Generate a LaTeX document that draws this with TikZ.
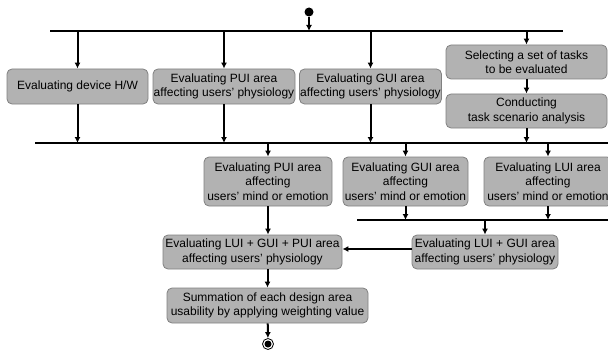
\documentclass[tikz,border=0pt]{standalone}
\usepackage{fontspec}
\setmainfont{Liberation Sans}
\usetikzlibrary{arrows.meta}
\begin{document}
\begin{tikzpicture}[x=1pt,y=-1pt,style={font=\fontsize{12}{14.3}\selectfont},
  act/.style={draw=black!50,fill=black!30,rounded corners=5pt,align=center,inner sep=0pt,line width=0.8pt},
  arr/.style={-{Latex[length=6pt,width=6pt]},line width=2pt},
  bar/.style={line width=1.2pt}]
\clip (0,0) rectangle (608,353);
\node[circle,fill,inner sep=0pt,minimum size=9pt] (start) at (309,12) {};
\coordinate (b1l) at (50,31);
\coordinate (b1r) at (563,31);
\coordinate (b2l) at (35,143);
\coordinate (b2r) at (608,143);
\coordinate (b3l) at (357,220);
\coordinate (b3r) at (608,220);
\draw[bar] (b1l) -- (b1r);
\draw[bar] (b2l) -- (b2r);
\draw[bar] (b3l) -- (b3r);
\node[act,minimum width=141pt,minimum height=35pt] (dev) at (77.5,86.5) {Evaluating device H/W};
\node[act,minimum width=142pt,minimum height=35pt] (puiph) at (224,86.5) {Evaluating PUI area\\affecting users' physiology};
\node[act,minimum width=142pt,minimum height=35pt] (guiph) at (370.5,86.5) {Evaluating GUI area\\affecting users' physiology};
\node[act,minimum width=161pt,minimum height=34pt] (sel) at (526.5,62) {Selecting a set of tasks\\to be evaluated};
\node[act,minimum width=161pt,minimum height=34pt] (cond) at (526.5,111) {Conducting\\task scenario analysis};
\node[act,minimum width=128pt,minimum height=49pt] (puimd) at (268,181.5) {Evaluating PUI area\\affecting\\users' mind or emotion};
\node[act,minimum width=125pt,minimum height=49pt] (guimd) at (405.5,181.5) {Evaluating GUI area\\affecting\\users' mind or emotion};
\node[act,minimum width=128pt,minimum height=49pt] (luimd) at (548,181.5) {Evaluating LUI area\\affecting\\users' mind or emotion};
\node[act,minimum width=146pt,minimum height=34pt] (lgph) at (485,252) {Evaluating LUI + GUI area\\affecting users' physiology};
\node[act,minimum width=179pt,minimum height=34pt] (lgpph) at (252.5,252) {Evaluating LUI + GUI + PUI area\\affecting users' physiology};
\node[act,minimum width=201pt,minimum height=35pt] (sum) at (267.5,305.5) {Summation of each design area\\usability by applying weighting value};
\node[circle,draw,line width=0.8pt,inner sep=0pt,minimum size=11pt] (end) at (268,344) {};
\node[circle,fill,inner sep=0pt,minimum size=7pt] (endin) at (end) {};
\draw[arr] (start) -- (start |- b1l);
\draw[arr] (dev.north |- b1l) -- (dev.north);
\draw[arr] (puiph.north |- b1l) -- (puiph.north);
\draw[arr] (guiph.north |- b1l) -- (guiph.north);
\draw[arr] (sel.north |- b1l) -- (sel.north);
\draw[arr] (sel) -- (cond);
\draw[arr] (dev) -- (dev |- b2l);
\draw[arr] (puiph) -- (puiph |- b2l);
\draw[arr] (guiph) -- (guiph |- b2l);
\draw[arr] (cond) -- (cond |- b2l);
\draw[arr] (puimd.north |- b2l) -- (puimd.north);
\draw[arr] (guimd.north |- b2l) -- (guimd.north);
\draw[arr] (luimd.north |- b2l) -- (luimd.north);
\draw[arr] (guimd) -- (guimd |- b3l);
\draw[arr] (luimd) -- (luimd |- b3l);
\draw[arr] (lgph.north |- b3l) -- (lgph.north);
\draw[arr] (puimd) -- (puimd |- lgpph.north);
\draw[arr] ([yshift=3pt]lgph.west) -- ([yshift=3pt]lgpph.east);
\draw[arr] (sum |- lgpph.south) -- (sum);
\draw[arr] (sum) -- (end);
\end{tikzpicture}
\end{document}
